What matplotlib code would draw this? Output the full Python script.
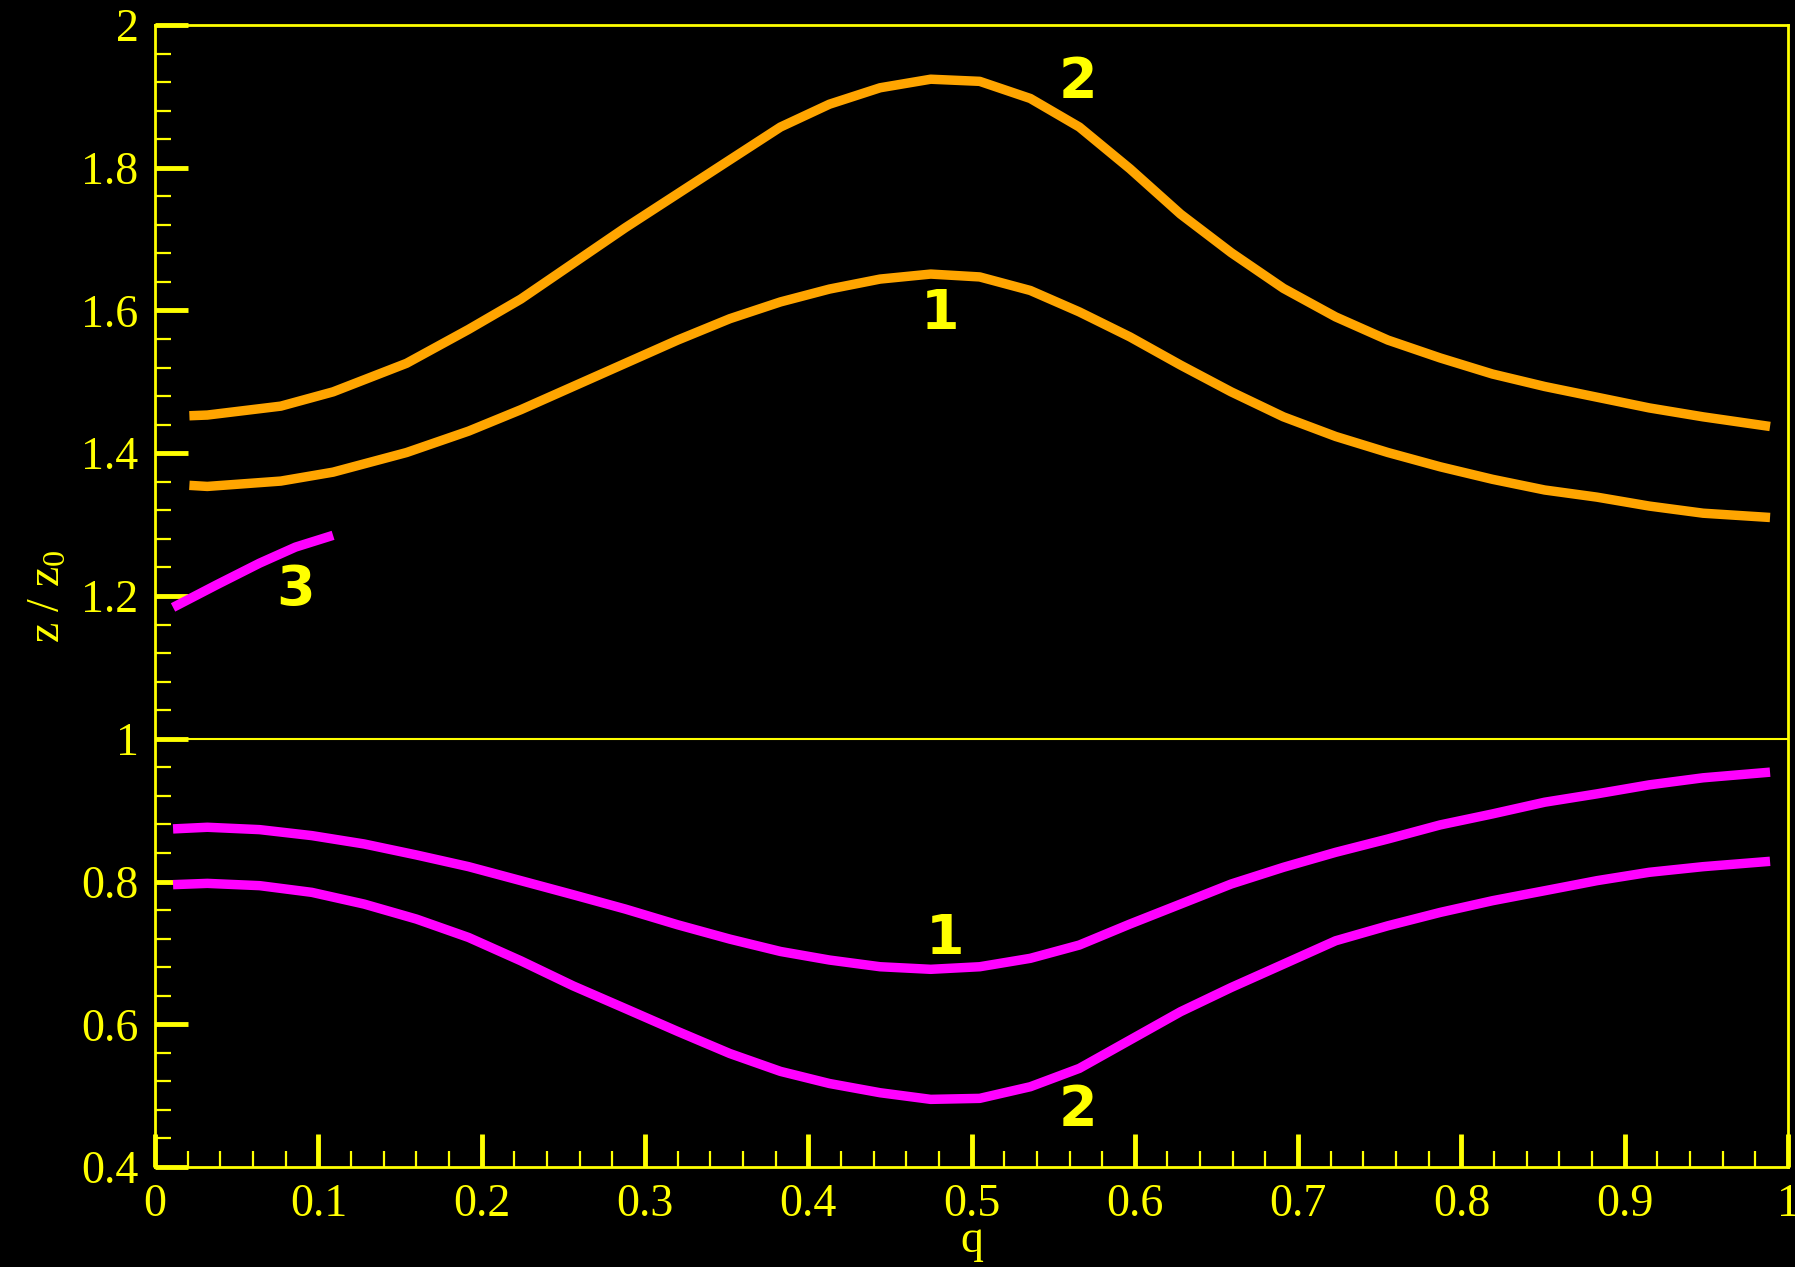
import matplotlib
matplotlib.use('Agg')
import matplotlib.pyplot as plt
from matplotlib.ticker import MultipleLocator, FuncFormatter

# values
q_upper = [0.021, 0.032, 0.077, 0.109, 0.154, 0.192, 0.224, 0.256, 0.288, 0.320,
           0.352, 0.383, 0.413, 0.444, 0.475, 0.505, 0.536, 0.566, 0.597, 0.628,
           0.659, 0.691, 0.723, 0.755, 0.787, 0.819, 0.851, 0.883, 0.915, 0.948, 0.989]
orange_2 = [1.4525, 1.4535, 1.466, 1.486, 1.526, 1.5735, 1.616, 1.666, 1.716, 1.7635,
            1.811, 1.857, 1.889, 1.912, 1.924, 1.921, 1.897, 1.857, 1.7985, 1.735,
            1.681, 1.631, 1.591, 1.5585, 1.5335, 1.511, 1.4935, 1.4785, 1.4635, 1.451, 1.4375]
orange_1 = [1.355, 1.3535, 1.361, 1.3735, 1.401, 1.431, 1.461, 1.4935, 1.526, 1.5585,
            1.5885, 1.612, 1.630, 1.644, 1.651, 1.647, 1.628, 1.598, 1.563, 1.5235,
            1.486, 1.451, 1.4235, 1.401, 1.381, 1.3635, 1.3485, 1.3385, 1.326, 1.316, 1.31]

q_lower = [0.011, 0.032, 0.064, 0.096, 0.128, 0.160, 0.192, 0.224, 0.256, 0.288,
           0.320, 0.352, 0.383, 0.413, 0.444, 0.475, 0.505, 0.536, 0.566, 0.597,
           0.628, 0.659, 0.691, 0.723, 0.755, 0.787, 0.819, 0.851, 0.883, 0.915,
           0.948, 0.989]
magenta_1 = [0.8737, 0.876, 0.8727, 0.8643, 0.8526, 0.8372, 0.8208, 0.8012, 0.7815, 0.7614,
             0.7394, 0.7193, 0.702, 0.690, 0.6806, 0.677, 0.6806, 0.6924, 0.711, 0.7404,
             0.7684, 0.7965, 0.8199, 0.8409, 0.8596, 0.8793, 0.8947, 0.9111, 0.9228, 0.9354,
             0.9453, 0.9532]
magenta_2 = [0.7956, 0.7974, 0.7942, 0.7848, 0.7684, 0.7474, 0.7216, 0.6889, 0.6538, 0.622,
             0.590, 0.559, 0.534, 0.517, 0.5041, 0.4948, 0.4962, 0.5125, 0.5382, 0.5779,
             0.6176, 0.6515, 0.6842, 0.717, 0.738, 0.7567, 0.7731, 0.7871, 0.8012, 0.8129,
             0.8208, 0.8283]

q_short = [0.011, 0.038, 0.064, 0.086, 0.109]
magenta_3 = [1.184, 1.216, 1.246, 1.2685, 1.285]

# curve labels: text, q, z
labels = [('2', 0.565, 1.92), ('1', 0.481, 1.595), ('3', 0.086, 1.208),
          ('1', 0.484, 0.7195), ('2', 0.565, 0.48)]

YEL = '#FFFF00'
ORA = '#FFA500'
MAG = '#FF00FF'

plt.rcParams['font.family'] = ['Liberation Serif', 'DejaVu Serif']
plt.rcParams['mathtext.fontset'] = 'custom'
plt.rcParams['mathtext.rm'] = 'Liberation Serif'
plt.rcParams['mathtext.it'] = 'Liberation Serif:italic'

fig = plt.figure(figsize=(17.95, 12.67), dpi=100, facecolor='black')
ax = fig.add_axes([0.0864, 0.0789, 0.9097, 0.9014], facecolor='black')

lw = 6.8
style = dict(lw=lw, solid_capstyle='butt', solid_joinstyle='round')
ax.plot(q_upper, orange_2, color=ORA, **style)
ax.plot(q_upper, orange_1, color=ORA, **style)
ax.plot(q_lower, magenta_1, color=MAG, **style)
ax.plot(q_lower, magenta_2, color=MAG, **style)
ax.plot(q_short, magenta_3, color=MAG, **style)

ax.axhline(1.0, color=YEL, lw=1.5)

for txt, xq, yz in labels:
    ax.text(xq, yz, txt, color=YEL, fontsize=40, fontweight='bold',
            family=['DejaVu Sans'], ha='center', va='center')

ax.set_xlim(0, 1)
ax.set_ylim(0.4, 2)
ax.xaxis.set_major_locator(MultipleLocator(0.1))
ax.xaxis.set_minor_locator(MultipleLocator(0.02))
ax.yaxis.set_major_locator(MultipleLocator(0.2))
ax.yaxis.set_minor_locator(MultipleLocator(0.04))
fmt = FuncFormatter(lambda v, p: '%g' % round(v, 2))
ax.xaxis.set_major_formatter(fmt)
ax.yaxis.set_major_formatter(fmt)

ax.tick_params(which='major', direction='in', length=24, width=3.5, color=YEL,
               labelcolor=YEL, labelsize=33, pad=12, top=False, right=False)
ax.tick_params(which='minor', direction='in', length=11.5, width=1.6, color=YEL,
               top=False, right=False)
for s in ax.spines.values():
    s.set_color(YEL)
    s.set_linewidth(2)

ax.set_xlabel('q', color=YEL, fontsize=33, labelpad=-5)
ax.set_ylabel(r'z / z$_\mathrm{0}$', color=YEL, fontsize=33, labelpad=8)

fig.savefig('out.png', dpi=100, facecolor='black')
